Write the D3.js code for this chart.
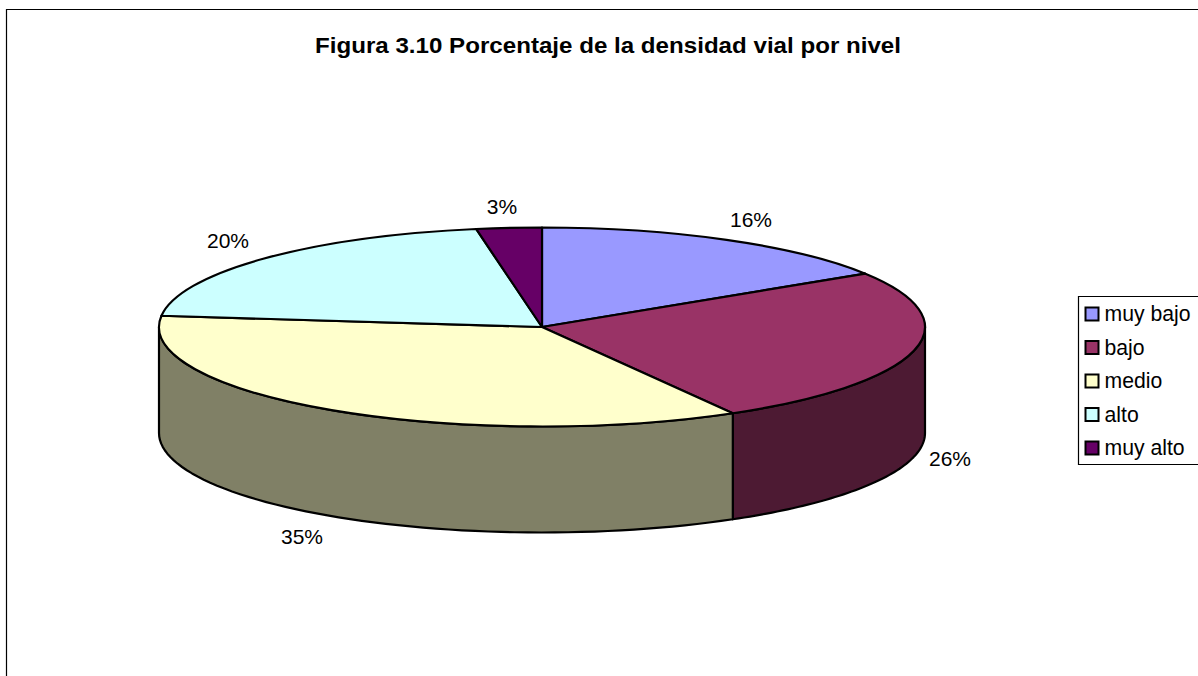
<!DOCTYPE html>
<html><head><meta charset="utf-8">
<script src="https://cdn.jsdelivr.net/npm/d3@7/dist/d3.min.js"></script>
<style>html,body{margin:0;padding:0;background:#fff}svg{display:block}text{font-family:"Liberation Sans",Arial,sans-serif;fill:#000}</style>
</head><body><svg id="c" width="1198" height="676"></svg>
<script>
const titleText = "Figura 3.10 Porcentaje de la densidad vial por nivel";
const categories = ["muy bajo","bajo","medio","alto","muy alto"];
const values = [16, 25.7, 35.1, 20.45, 2.75];
const labels = ["16%","26%","35%","20%","3%"];
const topColors = ["#9999FF","#993366","#FFFFCC","#CCFFFF","#660066"];
const sideColors = ["#4D4D80","#4D1A33","#808066","#668080","#330033"];
const labelPos = [[751,220],[950,459],[302,537],[228,241],[502,207]];

const W=1198,H=676,cx=542,cy=327,rx=383,ry=99.5,depth=106;
const svg=d3.select("#c");
svg.append("path").attr("d",`M6.5 ${H} V9.5 H${W}`).attr("fill","none").attr("stroke","#000").attr("stroke-width",1.2);
svg.append("text").attr("x",608).attr("y",52.5).attr("text-anchor","middle").attr("font-size",22.4).attr("font-weight","bold").attr("textLength",586).attr("lengthAdjust","spacingAndGlyphs").text(titleText);

const arcs=d3.pie().sort(null)(values);
const px=a=>cx+rx*Math.sin(a), py=a=>cy-ry*Math.cos(a);
const stroke={stroke:"#000",w:2.2};
const g=svg.append("g");
const front=[Math.PI/2,3*Math.PI/2];
arcs.forEach((d,i)=>{
  const a0=Math.max(d.startAngle,front[0]),a1=Math.min(d.endAngle,front[1]);
  if(a1<=a0) return;
  const p=d3.path();
  p.moveTo(px(a0),py(a0));
  p.lineTo(px(a0),py(a0)+depth);
  const seg=d3.range(0,61).map(k=>a0+(a1-a0)*k/60);
  seg.forEach(a=>p.lineTo(px(a),py(a)+depth));
  p.lineTo(px(a1),py(a1));
  seg.slice().reverse().forEach(a=>p.lineTo(px(a),py(a)));
  p.closePath();
  g.append("path").attr("d",p.toString()).attr("fill",sideColors[i]).attr("stroke",stroke.stroke).attr("stroke-width",stroke.w).attr("stroke-linejoin","round");
});
const arcGen=d3.arc().innerRadius(0).outerRadius(rx);
g.selectAll("path.top").data(arcs).join("path").attr("class","top")
  .attr("transform",`translate(${cx},${cy}) scale(1,${ry/rx})`)
  .attr("d",arcGen).attr("fill",(d,i)=>topColors[i])
  .attr("stroke",stroke.stroke).attr("stroke-width",stroke.w).attr("vector-effect","non-scaling-stroke").attr("stroke-linejoin","round");
svg.selectAll("text.lab").data(labels).join("text").attr("class","lab")
  .attr("x",(d,i)=>labelPos[i][0]).attr("y",(d,i)=>labelPos[i][1]+7)
  .attr("text-anchor","middle").attr("font-size",21).text(d=>d);
svg.append("path").attr("d",`M${W} 296.5 H1078.5 V464.5 H${W}`).attr("fill","#fff").attr("stroke","#000").attr("stroke-width",1.2);
const ly=d3.scalePoint().domain(categories).range([314,448]);
const lg=svg.selectAll("g.l").data(categories).join("g").attr("class","l").attr("transform",d=>`translate(0,${ly(d)})`);
lg.append("rect").attr("x",1085.5).attr("y",-6.5).attr("width",13).attr("height",13).attr("fill",(d,i)=>topColors[i]).attr("stroke","#000").attr("stroke-width",2);
lg.append("text").attr("x",1104.5).attr("y",7).attr("font-size",21.2).text(d=>d);
</script></body></html>
